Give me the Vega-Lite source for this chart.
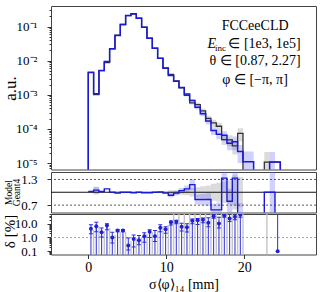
{
  "$schema": "https://vega.github.io/schema/vega-lite/v6.json",
  "padding": {"left": 0, "top": 5, "right": 7, "bottom": 5},
  "spacing": 0,
  "config": {
    "font": "Liberation Serif",
    "view": {"stroke": "#444444", "strokeWidth": 1},
    "axis": {"labelFont": "Liberation Serif", "titleFont": "Liberation Serif", "labelFontSize": 13, "titleFontSize": 14, "titleFontWeight": "normal", "labelColor": "#000000", "titleColor": "#000000", "tickColor": "#333333", "domain": false, "grid": false},
    "text": {"font": "Liberation Serif"}
  },
  "datasets": {
    "h": [
      {"s": "G", "x": -1, "v": 1e-7}, {"s": "G", "x": 0, "v": 0.0045}, {"s": "G", "x": 0.684, "v": 0.00102}, {"s": "G", "x": 1.368, "v": 0.0051},
      {"s": "G", "x": 2.052, "v": 0.0088}, {"s": "G", "x": 2.736, "v": 0.0223}, {"s": "G", "x": 3.42, "v": 0.0557}, {"s": "G", "x": 4.104, "v": 0.115},
      {"s": "G", "x": 4.788, "v": 0.21}, {"s": "G", "x": 5.472, "v": 0.237}, {"s": "G", "x": 6.156, "v": 0.175}, {"s": "G", "x": 6.84, "v": 0.096},
      {"s": "G", "x": 7.524, "v": 0.046}, {"s": "G", "x": 8.208, "v": 0.0232}, {"s": "G", "x": 8.892, "v": 0.0117}, {"s": "G", "x": 9.576, "v": 0.0061},
      {"s": "G", "x": 10.26, "v": 0.004}, {"s": "G", "x": 10.944, "v": 0.00255}, {"s": "G", "x": 11.628, "v": 0.00159}, {"s": "G", "x": 12.312, "v": 0.00097},
      {"s": "G", "x": 12.996, "v": 0.00058}, {"s": "G", "x": 13.68, "v": 0.00052}, {"s": "G", "x": 14.364, "v": 0.00034}, {"s": "G", "x": 15.048, "v": 0.000205},
      {"s": "G", "x": 15.732, "v": 0.00015}, {"s": "G", "x": 16.416, "v": 0.00012}, {"s": "G", "x": 17.1, "v": 0.000049}, {"s": "G", "x": 17.784, "v": 0.000048},
      {"s": "G", "x": 18.468, "v": 0.000032}, {"s": "G", "x": 19.152, "v": 0.000074}, {"s": "G", "x": 19.836, "v": 1e-7}, {"s": "G", "x": 22.572, "v": 0.0000107},
      {"s": "G", "x": 24.624, "v": 1e-7},
      {"s": "M", "x": -1, "v": 1e-7}, {"s": "M", "x": 0, "v": 0.0046}, {"s": "M", "x": 0.684, "v": 0.00107}, {"s": "M", "x": 1.368, "v": 0.0052},
      {"s": "M", "x": 2.052, "v": 0.0095}, {"s": "M", "x": 2.736, "v": 0.0223}, {"s": "M", "x": 3.42, "v": 0.0546}, {"s": "M", "x": 4.104, "v": 0.115},
      {"s": "M", "x": 4.788, "v": 0.21}, {"s": "M", "x": 5.472, "v": 0.235}, {"s": "M", "x": 6.156, "v": 0.175}, {"s": "M", "x": 6.84, "v": 0.095},
      {"s": "M", "x": 7.524, "v": 0.0455}, {"s": "M", "x": 8.208, "v": 0.0232}, {"s": "M", "x": 8.892, "v": 0.0118}, {"s": "M", "x": 9.576, "v": 0.006},
      {"s": "M", "x": 10.26, "v": 0.0037}, {"s": "M", "x": 10.944, "v": 0.0025}, {"s": "M", "x": 11.628, "v": 0.00165}, {"s": "M", "x": 12.312, "v": 0.00105},
      {"s": "M", "x": 12.996, "v": 0.00068}, {"s": "M", "x": 13.68, "v": 0.00043}, {"s": "M", "x": 14.364, "v": 0.00028}, {"s": "M", "x": 15.048, "v": 0.00017},
      {"s": "M", "x": 15.732, "v": 0.00009}, {"s": "M", "x": 16.416, "v": 0.00007}, {"s": "M", "x": 17.1, "v": 0.000065}, {"s": "M", "x": 17.784, "v": 0.000038},
      {"s": "M", "x": 18.468, "v": 0.000042}, {"s": "M", "x": 19.152, "v": 0.000022}, {"s": "M", "x": 19.836, "v": 0.000011}, {"s": "M", "x": 21.204, "v": 1e-7},
      {"s": "M", "x": 23.256, "v": 0.0000107}, {"s": "M", "x": 24.624, "v": 1e-7}
    ],
    "hb": [
      {"s": "G", "x0": 12.312, "x1": 12.996, "lo": 0.00089, "hi": 0.00105}, {"s": "M", "x0": 12.312, "x1": 12.996, "lo": 0.00096, "hi": 0.00114},
      {"s": "G", "x0": 12.996, "x1": 13.68, "lo": 0.00052, "hi": 0.00064}, {"s": "M", "x0": 12.996, "x1": 13.68, "lo": 0.00061, "hi": 0.00075},
      {"s": "G", "x0": 13.68, "x1": 14.364, "lo": 0.00045, "hi": 0.00059}, {"s": "M", "x0": 13.68, "x1": 14.364, "lo": 0.00037, "hi": 0.00049},
      {"s": "G", "x0": 14.364, "x1": 15.048, "lo": 0.00029, "hi": 0.00039}, {"s": "M", "x0": 14.364, "x1": 15.048, "lo": 0.000235, "hi": 0.000325},
      {"s": "G", "x0": 15.048, "x1": 15.732, "lo": 0.000165, "hi": 0.000245}, {"s": "M", "x0": 15.048, "x1": 15.732, "lo": 0.000136, "hi": 0.000204},
      {"s": "G", "x0": 15.732, "x1": 16.416, "lo": 0.000115, "hi": 0.000185}, {"s": "M", "x0": 15.732, "x1": 16.416, "lo": 0.000067, "hi": 0.000113},
      {"s": "G", "x0": 16.416, "x1": 17.1, "lo": 0.000088, "hi": 0.000152}, {"s": "M", "x0": 16.416, "x1": 17.1, "lo": 0.00005, "hi": 0.00009},
      {"s": "G", "x0": 17.1, "x1": 17.784, "lo": 0.000034, "hi": 0.000064}, {"s": "M", "x0": 17.1, "x1": 17.784, "lo": 0.000044, "hi": 0.000086},
      {"s": "G", "x0": 17.784, "x1": 18.468, "lo": 0.000031, "hi": 0.000065}, {"s": "M", "x0": 17.784, "x1": 18.468, "lo": 0.000024, "hi": 0.000052},
      {"s": "G", "x0": 18.468, "x1": 19.152, "lo": 0.000018, "hi": 0.000046}, {"s": "M", "x0": 18.468, "x1": 19.152, "lo": 0.000024, "hi": 0.00006},
      {"s": "G", "x0": 19.152, "x1": 19.836, "lo": 0.000043, "hi": 0.000105}, {"s": "M", "x0": 19.152, "x1": 19.836, "lo": 0.00001, "hi": 0.000034},
      {"s": "M", "x0": 19.836, "x1": 20.52, "lo": 1e-7, "hi": 0.000022}, {"s": "M", "x0": 20.52, "x1": 21.204, "lo": 1e-7, "hi": 0.000022},
      {"s": "G", "x0": 22.572, "x1": 23.256, "lo": 1e-7, "hi": 0.000021}, {"s": "M", "x0": 23.256, "x1": 23.94, "lo": 1e-7, "hi": 0.000021}
    ],
    "r": [
      {"x": 0, "r": 1.02}, {"x": 0.684, "r": 1.05}, {"x": 1.368, "r": 1.02}, {"x": 2.052, "r": 1.08}, {"x": 2.736, "r": 1.0},
      {"x": 3.42, "r": 0.98}, {"x": 4.104, "r": 1.0}, {"x": 5.472, "r": 0.99}, {"x": 6.156, "r": 1.0}, {"x": 6.84, "r": 0.99},
      {"x": 8.208, "r": 1.0}, {"x": 8.892, "r": 1.01}, {"x": 9.576, "r": 0.98}, {"x": 10.26, "r": 0.93}, {"x": 10.944, "r": 0.98},
      {"x": 11.628, "r": 1.04}, {"x": 12.312, "r": 1.08}, {"x": 12.996, "r": 1.18}, {"x": 13.68, "r": 0.83}, {"x": 15.732, "r": 0.59},
      {"x": 17.1, "r": 1.33}, {"x": 17.784, "r": 0.79}, {"x": 18.468, "r": 1.33}, {"x": 19.152, "r": 0.3}, {"x": 22.572, "r": 1.0},
      {"x": 23.94, "r": 0.3}, {"x": 24.624, "r": 0.3}
    ],
    "rb": [
      {"s": "G", "x0": 0.684, "x1": 1.368, "lo": 0.95, "hi": 1.12}, {"s": "M", "x0": 0.684, "x1": 1.368, "lo": 0.97, "hi": 1.13},
      {"s": "G", "x0": 10.26, "x1": 10.944, "lo": 0.95, "hi": 1.05}, {"s": "M", "x0": 10.26, "x1": 10.944, "lo": 0.88, "hi": 0.98},
      {"s": "G", "x0": 10.944, "x1": 11.628, "lo": 0.95, "hi": 1.05}, {"s": "M", "x0": 10.944, "x1": 11.628, "lo": 0.93, "hi": 1.03},
      {"s": "G", "x0": 11.628, "x1": 12.312, "lo": 0.94, "hi": 1.06}, {"s": "M", "x0": 11.628, "x1": 12.312, "lo": 0.98, "hi": 1.1},
      {"s": "G", "x0": 12.312, "x1": 12.996, "lo": 0.93, "hi": 1.07}, {"s": "M", "x0": 12.312, "x1": 12.996, "lo": 1.0, "hi": 1.16},
      {"s": "G", "x0": 12.996, "x1": 13.68, "lo": 0.9, "hi": 1.1}, {"s": "M", "x0": 12.996, "x1": 13.68, "lo": 1.05, "hi": 1.31},
      {"s": "G", "x0": 13.68, "x1": 14.364, "lo": 0.88, "hi": 1.12}, {"s": "M", "x0": 13.68, "x1": 14.364, "lo": 0.72, "hi": 0.94},
      {"s": "G", "x0": 14.364, "x1": 15.048, "lo": 0.86, "hi": 1.14}, {"s": "M", "x0": 14.364, "x1": 15.048, "lo": 0.7, "hi": 0.96},
      {"s": "G", "x0": 15.048, "x1": 15.732, "lo": 0.84, "hi": 1.16}, {"s": "M", "x0": 15.048, "x1": 15.732, "lo": 0.68, "hi": 0.98},
      {"s": "G", "x0": 15.732, "x1": 16.416, "lo": 0.8, "hi": 1.2}, {"s": "M", "x0": 15.732, "x1": 16.416, "lo": 0.45, "hi": 0.73},
      {"s": "G", "x0": 16.416, "x1": 17.1, "lo": 0.78, "hi": 1.22}, {"s": "M", "x0": 16.416, "x1": 17.1, "lo": 0.42, "hi": 0.76},
      {"s": "G", "x0": 17.1, "x1": 17.784, "lo": 0.75, "hi": 1.25}, {"s": "M", "x0": 17.1, "x1": 17.784, "lo": 1.0, "hi": 1.7},
      {"s": "G", "x0": 17.784, "x1": 18.468, "lo": 0.72, "hi": 1.28}, {"s": "M", "x0": 17.784, "x1": 18.468, "lo": 0.5, "hi": 1.08},
      {"s": "G", "x0": 18.468, "x1": 19.152, "lo": 0.6, "hi": 1.4}, {"s": "M", "x0": 18.468, "x1": 19.152, "lo": 0.7, "hi": 1.9},
      {"s": "G", "x0": 19.152, "x1": 19.836, "lo": 0.65, "hi": 1.35}, {"s": "M", "x0": 19.152, "x1": 19.836, "lo": 0.3, "hi": 0.75},
      {"s": "M", "x0": 23.256, "x1": 23.94, "lo": 0.3, "hi": 1.9}
    ],
    "d": [
      {"x": 0.342, "v": 4.3, "lo": 1.9, "hi": 8.5}, {"x": 1.026, "v": 6.6, "lo": 2.6, "hi": 13}, {"x": 1.71, "v": 2.4, "lo": 1.1, "hi": 5},
      {"x": 2.394, "v": 7.5, "lo": 3.6, "hi": 10}, {"x": 3.078, "v": 1.0, "lo": 0.4, "hi": 2.4}, {"x": 3.762, "v": 3.2, "lo": 2.6, "hi": 3.9},
      {"x": 4.446, "v": 3.2, "lo": 2.6, "hi": 3.9}, {"x": 5.13, "v": 0.26, "lo": 0.12, "hi": 0.9}, {"x": 5.814, "v": 0.76, "lo": 0.2, "hi": 1.5},
      {"x": 6.498, "v": 0.63, "lo": 0.3, "hi": 1.4}, {"x": 7.182, "v": 1.25, "lo": 0.45, "hi": 2.2}, {"x": 7.866, "v": 2.6, "lo": 1.0, "hi": 3.6},
      {"x": 8.55, "v": 1.25, "lo": 0.5, "hi": 3.2}, {"x": 9.234, "v": 5.1, "lo": 2.6, "hi": 8.5}, {"x": 9.918, "v": 4.0, "lo": 2.0, "hi": 6.0},
      {"x": 10.602, "v": 13, "lo": 8, "hi": 16}, {"x": 11.286, "v": 14, "lo": 10, "hi": 18}, {"x": 11.97, "v": 6, "lo": 3, "hi": 11},
      {"x": 12.654, "v": 5.6, "lo": 2.5, "hi": 10}, {"x": 13.338, "v": 17, "lo": 10, "hi": 22}, {"x": 14.022, "v": 18, "lo": 9, "hi": 24},
      {"x": 14.706, "v": 20, "lo": 12, "hi": 27}, {"x": 15.39, "v": 12, "lo": 6, "hi": 28}, {"x": 16.074, "v": 36, "lo": 25, "hi": 50},
      {"x": 16.758, "v": 10.5, "lo": 5, "hi": 30}, {"x": 17.442, "v": 40, "lo": 30, "hi": 55}, {"x": 18.126, "v": 24, "lo": 15, "hi": 55},
      {"x": 18.81, "v": 33, "lo": 20, "hi": 60}, {"x": 19.494, "v": 45, "lo": 30, "hi": 70}, {"x": 24.282, "v": 0.1, "lo": null, "hi": null}
    ],
    "dg": [
      {"x": 0.684, "g": 3.5}, {"x": 1.368, "g": 6}, {"x": 2.052, "g": 3}, {"x": 2.736, "g": 5}, {"x": 3.42, "g": 1.5},
      {"x": 4.104, "g": 2.5}, {"x": 4.788, "g": 2.5}, {"x": 5.472, "g": 0.5}, {"x": 6.156, "g": 0.9}, {"x": 6.84, "g": 1.0},
      {"x": 7.524, "g": 1.8}, {"x": 8.208, "g": 2.5}, {"x": 8.892, "g": 3}, {"x": 9.576, "g": 6}, {"x": 10.26, "g": 8},
      {"x": 10.944, "g": 100}, {"x": 11.628, "g": 100}, {"x": 12.312, "g": 100}, {"x": 12.996, "g": 100}, {"x": 13.68, "g": 100},
      {"x": 14.364, "g": 100}, {"x": 15.048, "g": 100}, {"x": 15.732, "g": 100}, {"x": 16.416, "g": 100}, {"x": 17.1, "g": 100},
      {"x": 17.784, "g": 100}, {"x": 18.468, "g": 100}, {"x": 19.152, "g": 100}, {"x": 19.836, "g": 100}, {"x": 22.9, "g": 100}
    ]
  },
  "vconcat": [
    {
      "width": 265,
      "height": 163.5,
      "layer": [
        {
          "data": {"name": "hb"},
          "transform": [{"filter": "datum.s == 'G'"}],
          "mark": {"type": "rect", "clip": true, "color": "#999999", "opacity": 0.35},
          "encoding": {
            "x": {"field": "x0", "type": "quantitative", "scale": {"domain": [-4.78, 29.2], "nice": false, "zero": false}, "axis": null},
            "x2": {"field": "x1"},
            "y": {"field": "lo", "type": "quantitative", "scale": {"type": "log", "domain": [0.0000065, 0.4], "nice": false},
              "axis": {
                "title": "a.u.", "titleFontSize": 17, "titleX": -41, "titleY": 82, "titleAngle": -90, "titleBaseline": "middle", "titleAlign": "center",
                "values": [0.000007, 0.000008, 0.000009, 0.00001, 0.00002, 0.00003, 0.00004, 0.00005, 0.00006, 0.00007, 0.00008, 0.00009,
                  0.0001, 0.0002, 0.0003, 0.0004, 0.0005, 0.0006, 0.0007, 0.0008, 0.0009, 0.001, 0.002, 0.003, 0.004, 0.005, 0.006, 0.007, 0.008, 0.009,
                  0.01, 0.02, 0.03, 0.04, 0.05, 0.06, 0.07, 0.08, 0.09, 0.1, 0.2, 0.3],
                "labelExpr": "abs(log(datum.value)/LN10 - round(log(datum.value)/LN10)) > 0.01 ? '' : round(log(datum.value)/LN10) == -1 ? '10⁻¹' : round(log(datum.value)/LN10) == -2 ? '10⁻²' : round(log(datum.value)/LN10) == -3 ? '10⁻³' : round(log(datum.value)/LN10) == -4 ? '10⁻⁴' : '10⁻⁵'",
                "tickSize": {"condition": {"test": "abs(log(datum.value)/LN10 - round(log(datum.value)/LN10)) < 0.01", "value": 4}, "value": 2},
                "labelFontSize": {"condition": {"test": "abs(log(datum.value)/LN10 - round(log(datum.value)/LN10)) < 0.01", "value": 13}, "value": 0},
                "labelPadding": 10
              }
            },
            "y2": {"field": "hi"}
          }
        },
        {
          "data": {"name": "hb"},
          "transform": [{"filter": "datum.s == 'M'"}],
          "mark": {"type": "rect", "clip": true, "color": "#6666ff", "opacity": 0.3},
          "encoding": {
            "x": {"field": "x0", "type": "quantitative", "scale": {"domain": [-4.78, 29.2], "nice": false, "zero": false}, "axis": null},
            "x2": {"field": "x1"},
            "y": {"field": "lo", "type": "quantitative", "scale": {"type": "log", "domain": [0.0000065, 0.4], "nice": false}},
            "y2": {"field": "hi"}
          }
        },
        {
          "data": {"name": "h"},
          "transform": [{"filter": "datum.s == 'G'"}],
          "mark": {"type": "line", "interpolate": "step-after", "clip": true, "color": "#333333", "strokeWidth": 1.3},
          "encoding": {
            "x": {"field": "x", "type": "quantitative", "scale": {"domain": [-4.78, 29.2], "nice": false, "zero": false}, "axis": null},
            "y": {"field": "v", "type": "quantitative", "scale": {"type": "log", "domain": [0.0000065, 0.4], "nice": false}}
          }
        },
        {
          "data": {"name": "h"},
          "transform": [{"filter": "datum.s == 'M'"}],
          "mark": {"type": "line", "interpolate": "step-after", "clip": true, "color": "#1a1ad6", "strokeWidth": 1.5},
          "encoding": {
            "x": {"field": "x", "type": "quantitative", "scale": {"domain": [-4.78, 29.2], "nice": false, "zero": false}, "axis": null},
            "y": {"field": "v", "type": "quantitative", "scale": {"type": "log", "domain": [0.0000065, 0.4], "nice": false}}
          }
        },
        {
          "data": {"values": [{"t": "FCCeeCLD", "x": 21.39, "y": 0.107}, {"t": "θ ∈ [0.87, 2.27]", "x": 21.39, "y": 0.0098}, {"t": "φ ∈ [−π, π]", "x": 21.39, "y": 0.0028}]},
          "mark": {"type": "text", "align": "center", "baseline": "middle", "fontSize": 14, "color": "#000000"},
          "encoding": {
            "x": {"field": "x", "type": "quantitative", "scale": {"domain": [-4.78, 29.2], "nice": false, "zero": false}, "axis": null},
            "y": {"field": "y", "type": "quantitative", "scale": {"type": "log", "domain": [0.0000065, 0.4], "nice": false}},
            "text": {"field": "t"}
          }
        },
        {
          "data": {"values": [{"t": "E", "x": 15.3, "y": 0.0307}]},
          "mark": {"type": "text", "align": "left", "baseline": "middle", "fontSize": 14, "fontStyle": "italic", "color": "#000000"},
          "encoding": {
            "x": {"field": "x", "type": "quantitative", "scale": {"domain": [-4.78, 29.2], "nice": false, "zero": false}, "axis": null},
            "y": {"field": "y", "type": "quantitative", "scale": {"type": "log", "domain": [0.0000065, 0.4], "nice": false}},
            "text": {"field": "t"}
          }
        },
        {
          "data": {"values": [{"t": "inc", "x": 16.24, "y": 0.0243}]},
          "mark": {"type": "text", "align": "left", "baseline": "middle", "fontSize": 9, "color": "#000000"},
          "encoding": {
            "x": {"field": "x", "type": "quantitative", "scale": {"domain": [-4.78, 29.2], "nice": false, "zero": false}, "axis": null},
            "y": {"field": "y", "type": "quantitative", "scale": {"type": "log", "domain": [0.0000065, 0.4], "nice": false}},
            "text": {"field": "t"}
          }
        },
        {
          "data": {"values": [{"t": "∈ [1e3, 1e5]", "x": 17.97, "y": 0.0307}]},
          "mark": {"type": "text", "align": "left", "baseline": "middle", "fontSize": 14, "color": "#000000"},
          "encoding": {
            "x": {"field": "x", "type": "quantitative", "scale": {"domain": [-4.78, 29.2], "nice": false, "zero": false}, "axis": null},
            "y": {"field": "y", "type": "quantitative", "scale": {"type": "log", "domain": [0.0000065, 0.4], "nice": false}},
            "text": {"field": "t"}
          }
        }
      ]
    },
    {
      "width": 265,
      "height": 40.5,
      "layer": [
        {
          "data": {"name": "rb"},
          "transform": [{"filter": "datum.s == 'G'"}],
          "mark": {"type": "rect", "clip": true, "color": "#999999", "opacity": 0.35},
          "encoding": {
            "x": {"field": "x0", "type": "quantitative", "scale": {"domain": [-4.78, 29.2], "nice": false, "zero": false}, "axis": null},
            "x2": {"field": "x1"},
            "y": {"field": "lo", "type": "quantitative", "scale": {"domain": [0.528, 1.474], "nice": false, "zero": false},
              "axis": {"title": ["Model", "Geant4"], "titleFontSize": 9.5, "titleLineHeight": 8, "titleX": -48, "titleY": 20, "titleAngle": -90, "titleBaseline": "top", "titleAlign": "center",
                "values": [0.7, 1.0, 1.3], "format": ".1f", "tickSize": 4, "labelPadding": 10, "labelFontSize": 13}},
            "y2": {"field": "hi"}
          }
        },
        {
          "data": {"name": "rb"},
          "transform": [{"filter": "datum.s == 'M'"}],
          "mark": {"type": "rect", "clip": true, "color": "#6666ff", "opacity": 0.3},
          "encoding": {
            "x": {"field": "x0", "type": "quantitative", "scale": {"domain": [-4.78, 29.2], "nice": false, "zero": false}, "axis": null},
            "x2": {"field": "x1"},
            "y": {"field": "lo", "type": "quantitative", "scale": {"domain": [0.528, 1.474], "nice": false, "zero": false}},
            "y2": {"field": "hi"}
          }
        },
        {
          "data": {"values": [{"k": 1.3}, {"k": 0.7}]},
          "mark": {"type": "rule", "color": "#444444", "strokeWidth": 0.9, "strokeDash": [2, 2]},
          "encoding": {
            "y": {"field": "k", "type": "quantitative", "scale": {"domain": [0.528, 1.474], "nice": false, "zero": false}}
          }
        },
        {
          "data": {"values": [{"k": 1.0}]},
          "mark": {"type": "rule", "color": "#111111", "strokeWidth": 1.1},
          "encoding": {
            "y": {"field": "k", "type": "quantitative", "scale": {"domain": [0.528, 1.474], "nice": false, "zero": false}}
          }
        },
        {
          "data": {"name": "r"},
          "mark": {"type": "line", "interpolate": "step-after", "clip": true, "color": "#1a1ad6", "strokeWidth": 1.4},
          "encoding": {
            "x": {"field": "x", "type": "quantitative", "scale": {"domain": [-4.78, 29.2], "nice": false, "zero": false}, "axis": null},
            "y": {"field": "r", "type": "quantitative", "scale": {"domain": [0.528, 1.474], "nice": false, "zero": false}}
          }
        }
      ]
    },
    {
      "width": 265,
      "height": 40.5,
      "layer": [
        {
          "data": {"name": "dg"},
          "mark": {"type": "rule", "clip": true, "color": "#c4c4c4", "strokeWidth": 1.4},
          "encoding": {
            "x": {"field": "x", "type": "quantitative", "scale": {"domain": [-4.78, 29.2], "nice": false, "zero": false},
              "axis": {"values": [0, 10, 20], "title": "σ⟨φ⟩₁₄ [mm]", "tickSize": 4, "labelPadding": 2, "titlePadding": 3, "labelFlush": false, "labelFontSize": 14}},
            "y": {"field": "g", "type": "quantitative", "scale": {"type": "log", "domain": [0.057, 52], "nice": false},
              "axis": {"title": "δ [%]", "titleFontSize": 15, "titleX": -42, "titleY": 17, "titleAngle": -90, "titleBaseline": "middle", "titleAlign": "center",
                "values": [0.06, 0.07, 0.08, 0.09, 0.1, 0.2, 0.3, 0.4, 0.5, 0.6, 0.7, 0.8, 0.9, 1, 2, 3, 4, 5, 6, 7, 8, 9, 10, 20, 30, 40, 50],
                "labelExpr": "abs(log(datum.value)/LN10 - round(log(datum.value)/LN10)) > 0.01 ? '' : format(datum.value, '.1f')",
                "tickSize": {"condition": {"test": "abs(log(datum.value)/LN10 - round(log(datum.value)/LN10)) < 0.01", "value": 4}, "value": 2},
                "labelFontSize": {"condition": {"test": "abs(log(datum.value)/LN10 - round(log(datum.value)/LN10)) < 0.01", "value": 13}, "value": 0},
                "labelPadding": 10}},
            "y2": {"datum": 0.01}
          }
        },
        {
          "data": {"values": [{"k": 1.0}]},
          "mark": {"type": "rule", "color": "#999999", "strokeWidth": 0.9, "strokeDash": [2, 2]},
          "encoding": {
            "y": {"field": "k", "type": "quantitative", "scale": {"type": "log", "domain": [0.057, 52], "nice": false}}
          }
        },
        {
          "data": {"name": "d"},
          "transform": [{"filter": "datum.v >= 0.2"}],
          "mark": {"type": "rule", "clip": true, "color": "#2a2ae0", "strokeWidth": 1},
          "encoding": {
            "x": {"field": "x", "type": "quantitative", "scale": {"domain": [-4.78, 29.2], "nice": false, "zero": false}},
            "y": {"field": "v", "type": "quantitative", "scale": {"type": "log", "domain": [0.057, 52], "nice": false}},
            "y2": {"datum": 0.01}
          }
        },
        {
          "data": {"name": "d"},
          "transform": [{"filter": "datum.v < 0.2"}],
          "mark": {"type": "rule", "clip": true, "color": "#2a2ae0", "strokeWidth": 1},
          "encoding": {
            "x": {"field": "x", "type": "quantitative", "scale": {"domain": [-4.78, 29.2], "nice": false, "zero": false}},
            "y": {"field": "v", "type": "quantitative", "scale": {"type": "log", "domain": [0.057, 52], "nice": false}},
            "y2": {"datum": 1000}
          }
        },
        {
          "data": {"name": "d"},
          "transform": [{"filter": "datum.lo != null"}],
          "mark": {"type": "rule", "clip": true, "color": "#2a2ae0", "strokeWidth": 1},
          "encoding": {
            "x": {"field": "x", "type": "quantitative", "scale": {"domain": [-4.78, 29.2], "nice": false, "zero": false}},
            "y": {"field": "lo", "type": "quantitative", "scale": {"type": "log", "domain": [0.057, 52], "nice": false}},
            "y2": {"field": "hi"}
          }
        },
        {
          "data": {"name": "d"},
          "transform": [{"filter": "datum.lo != null"}],
          "mark": {"type": "tick", "orient": "horizontal", "size": 4, "thickness": 1, "clip": true, "color": "#2a2ae0", "opacity": 1},
          "encoding": {
            "x": {"field": "x", "type": "quantitative", "scale": {"domain": [-4.78, 29.2], "nice": false, "zero": false}},
            "y": {"field": "lo", "type": "quantitative", "scale": {"type": "log", "domain": [0.057, 52], "nice": false}}
          }
        },
        {
          "data": {"name": "d"},
          "transform": [{"filter": "datum.hi != null"}],
          "mark": {"type": "tick", "orient": "horizontal", "size": 4, "thickness": 1, "clip": true, "color": "#2a2ae0", "opacity": 1},
          "encoding": {
            "x": {"field": "x", "type": "quantitative", "scale": {"domain": [-4.78, 29.2], "nice": false, "zero": false}},
            "y": {"field": "hi", "type": "quantitative", "scale": {"type": "log", "domain": [0.057, 52], "nice": false}}
          }
        },
        {
          "data": {"name": "d"},
          "mark": {"type": "point", "filled": true, "size": 16, "clip": true, "color": "#2020d8", "opacity": 1},
          "encoding": {
            "x": {"field": "x", "type": "quantitative", "scale": {"domain": [-4.78, 29.2], "nice": false, "zero": false}},
            "y": {"field": "v", "type": "quantitative", "scale": {"type": "log", "domain": [0.057, 52], "nice": false}}
          }
        }
      ]
    }
  ]
}
